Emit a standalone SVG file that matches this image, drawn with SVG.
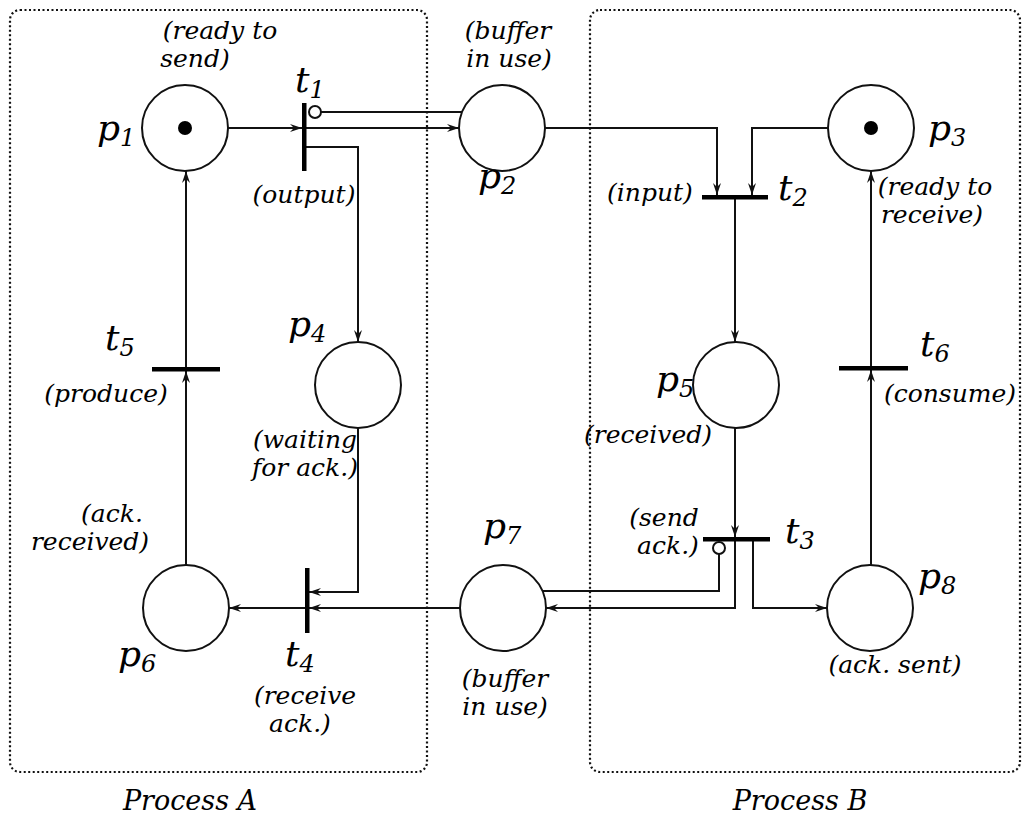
<svg xmlns="http://www.w3.org/2000/svg" width="1026" height="818" viewBox="0 0 1026 818">
<style>
.box{fill:none;stroke:#111;stroke-width:2.2;stroke-dasharray:2 2.5}
.place{fill:#fff;stroke:#111;stroke-width:2}
.tok{fill:#000}
.tr{fill:#000}
.arc{fill:none;stroke:#111;stroke-width:2}
.arw{fill:none;stroke:#111;stroke-width:2;marker-end:url(#ah)}
.inh{fill:#fff;stroke:#111;stroke-width:2}
.lbl{font-family:"DejaVu Serif","Liberation Serif",serif;font-style:italic;fill:#000}
.t{font-size:25px;text-anchor:middle}
.n{font-size:36px}
.s{font-size:24px}
.proc{font-size:27px;text-anchor:middle}
</style>
<defs>
<marker id="ah" viewBox="0 0 12 8" refX="12" refY="4" markerWidth="12" markerHeight="8" markerUnits="userSpaceOnUse" orient="auto">
<path d="M0,0 L12,4 L0,8 L4,4 z" fill="#111"/>
</marker>
</defs>
<g id="connectors">
<path class="arw" d="M227,128 L302,128"/>
<path class="arw" d="M306,128 L459,128"/>
<path class="arc" d="M321,112 L462,112"/>
<path class="arw" d="M306,147 L358,147 L358,342"/>
<path class="arw" d="M358,428 L358,592 L309,592"/>
<path class="arw" d="M460,608 L309,608"/>
<path class="arw" d="M305,608 L229,608"/>
<path class="arw" d="M186,565 L186,371"/>
<path class="arw" d="M186,367 L186,171"/>
<path class="arw" d="M545,128 L717,128 L717,195"/>
<path class="arw" d="M829,128 L752,128 L752,195"/>
<path class="arw" d="M735,199 L735,342"/>
<path class="arw" d="M735,428 L735,537"/>
<path class="arc" d="M719,554 L719,591 L542,591"/>
<path class="arw" d="M735,541 L735,608 L546,608"/>
<path class="arw" d="M753,541 L753,608 L827,608"/>
<path class="arw" d="M871,565 L871,370"/>
<path class="arw" d="M871,366 L871,171"/>
</g>
<g class="lbl">
<g id="process-a">
<rect class="box" x="10" y="10" width="417" height="762" rx="10"/>
<text class="proc" x="190" y="810">Process A</text>
</g>
<g id="process-b">
<rect class="box" x="590" y="10" width="430" height="762" rx="10"/>
<text class="proc" x="800" y="810">Process B</text>
</g>
<g id="p1">
<circle class="place" cx="185" cy="128" r="43"/>
<circle class="tok" cx="185" cy="128" r="7"/>
<text class="n" x="97" y="140">p<tspan class="s" dy="6">1</tspan></text>
<text class="t" x="220" y="39">(ready to</text>
<text class="t" x="195" y="67">send)</text>
</g>
<g id="p2">
<circle class="place" cx="502" cy="128" r="43"/>
<text class="n" x="478" y="188">p<tspan class="s" dy="6">2</tspan></text>
<text class="t" x="508" y="39">(buffer</text>
<text class="t" x="509" y="67">in use)</text>
</g>
<g id="p3">
<circle class="place" cx="871" cy="128" r="43"/>
<circle class="tok" cx="871" cy="128" r="7"/>
<text class="n" x="928" y="140">p<tspan class="s" dy="6">3</tspan></text>
<text class="t" x="935" y="195">(ready to</text>
<text class="t" x="932" y="223">receive)</text>
</g>
<g id="p4">
<circle class="place" cx="358" cy="385" r="43"/>
<text class="n" x="288" y="336">p<tspan class="s" dy="6">4</tspan></text>
<text class="t" x="305" y="448">(waiting</text>
<text class="t" x="305" y="476">for ack.)</text>
</g>
<g id="p5">
<circle class="place" cx="736" cy="385" r="43"/>
<text class="n" x="656" y="391">p<tspan class="s" dy="6">5</tspan></text>
<text class="t" x="648" y="443">(received)</text>
</g>
<g id="p6">
<circle class="place" cx="186" cy="608" r="43"/>
<text class="n" x="118" y="666">p<tspan class="s" dy="6">6</tspan></text>
<text class="t" x="112" y="522">(ack.</text>
<text class="t" x="90" y="550">received)</text>
</g>
<g id="p7">
<circle class="place" cx="503" cy="608" r="43"/>
<text class="n" x="483" y="538">p<tspan class="s" dy="6">7</tspan></text>
<text class="t" x="505" y="687">(buffer</text>
<text class="t" x="505" y="715">in use)</text>
</g>
<g id="p8">
<circle class="place" cx="870" cy="608" r="43"/>
<text class="n" x="918" y="588">p<tspan class="s" dy="6">8</tspan></text>
<text class="t" x="895" y="673">(ack. sent)</text>
</g>
<g id="t1">
<rect class="tr" x="302" y="103" width="4.5" height="68"/>
<circle class="inh" cx="315" cy="112" r="6"/>
<text class="n" x="295" y="92">t<tspan class="s" dy="6">1</tspan></text>
<text class="t" x="304" y="203">(output)</text>
</g>
<g id="t2">
<rect class="tr" x="702" y="195" width="66" height="4.5"/>
<text class="n" x="778" y="200">t<tspan class="s" dy="6">2</tspan></text>
<text class="t" x="650" y="201">(input)</text>
</g>
<g id="t3">
<rect class="tr" x="703" y="537" width="67" height="4.5"/>
<circle class="inh" cx="719" cy="548" r="6"/>
<text class="n" x="785" y="543">t<tspan class="s" dy="6">3</tspan></text>
<text class="t" x="664" y="526">(send</text>
<text class="t" x="668" y="554">ack.)</text>
</g>
<g id="t4">
<rect class="tr" x="305" y="568" width="4.5" height="65"/>
<text class="n" x="285" y="666">t<tspan class="s" dy="6">4</tspan></text>
<text class="t" x="305" y="704">(receive</text>
<text class="t" x="300" y="732">ack.)</text>
</g>
<g id="t5">
<rect class="tr" x="152" y="367" width="68" height="4.5"/>
<text class="n" x="105" y="350">t<tspan class="s" dy="6">5</tspan></text>
<text class="t" x="106" y="402">(produce)</text>
</g>
<g id="t6">
<rect class="tr" x="839" y="366" width="69" height="4.5"/>
<text class="n" x="920" y="356">t<tspan class="s" dy="6">6</tspan></text>
<text class="t" x="950" y="402">(consume)</text>
</g>
</g>
</svg>
